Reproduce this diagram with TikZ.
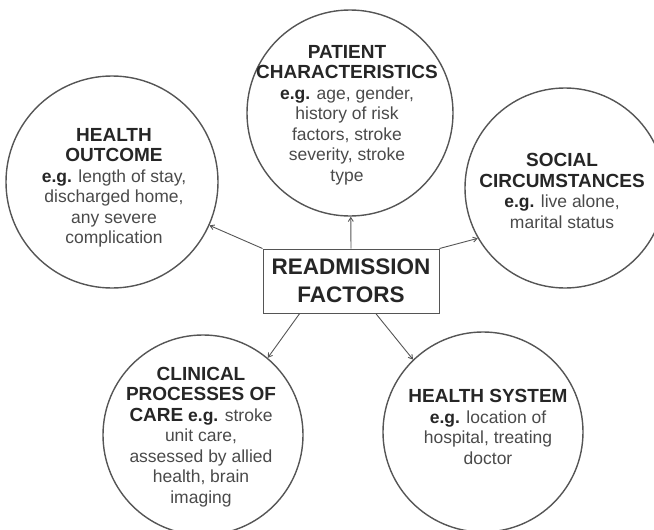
\documentclass[tikz,border=0pt]{standalone}
\usepackage{fontspec}
\setmainfont{Liberation Sans}
\usetikzlibrary{arrows.meta,calc}
\definecolor{rim}{HTML}{555555}
\definecolor{head}{HTML}{262626}
\definecolor{bodytext}{HTML}{4A4A4A}
\tikzset{
  factor/.style={circle,draw=rim,line width=1.4pt,minimum size=#1,inner sep=0pt},
  blurb/.style={align=center,text=bodytext,font=\fontsize{17.5}{20.5}\selectfont,inner sep=0pt},
  hub/.style={draw=rim,line width=1pt,minimum width=176pt,minimum height=64pt,
    font=\fontsize{22.5}{28}\selectfont\bfseries,text=head,align=center},
  link/.style={draw=rim,line width=0.9pt,-{Straight Barb[length=4pt,width=5pt]}},
}
\newcommand{\hd}[1]{{\fontsize{19}{20.5}\selectfont\bfseries\color{head}#1}}
\newcommand{\eg}{{\bfseries\color{head}e.g.}}
\begin{document}
\begin{tikzpicture}[x=1pt,y=-1pt]
\useasboundingbox (0,0) rectangle (654,530);

% the five factor groups
\node[factor=206pt] (pc) at (350,113) {};
\node[factor=212pt] (ho) at (112,182) {};
\node[factor=200pt] (so) at (565,188) {};
\node[factor=200pt] (cl) at (203,435) {};
\node[factor=200pt] (hs) at (483,432) {};

\node[blurb] (pc-t) at (347,115) {\hd{PATIENT}\\\hd{CHARACTERISTICS}\\\eg{} age, gender,\\history of risk\\factors, stroke\\severity, stroke\\type};
\node[blurb] (ho-t) at (114,188) {\hd{HEALTH}\\\hd{OUTCOME}\\\eg{} length of stay,\\discharged home,\\any severe\\complication};
\node[blurb] (so-t) at (562,191) {\hd{SOCIAL}\\\hd{CIRCUMSTANCES}\\\eg{} live alone,\\marital status};
\node[blurb] (cl-t) at (201,437) {\hd{CLINICAL}\\\hd{PROCESSES OF}\\\hd{CARE} \eg{} stroke\\unit care,\\assessed by allied\\health, brain\\imaging};
\node[blurb] (hs-t) at (488,427) {\hd{HEALTH SYSTEM}\\\eg{} location of\\hospital, treating\\doctor};

% central box
\node[hub] (rf) at (351,281) {READMISSION\\FACTORS};

% connectors
\draw[link] (rf.north west) -- (ho.336);
\draw[link] (rf.north) -- (pc);
\draw[link] (rf.north east) -- (so.210);
\draw[link] ($(rf.south west)!0.21!(rf.south east)$) -- (cl.50);
\draw[link] ($(rf.south west)!0.64!(rf.south east)$) -- (hs.134);
\end{tikzpicture}
\end{document}
